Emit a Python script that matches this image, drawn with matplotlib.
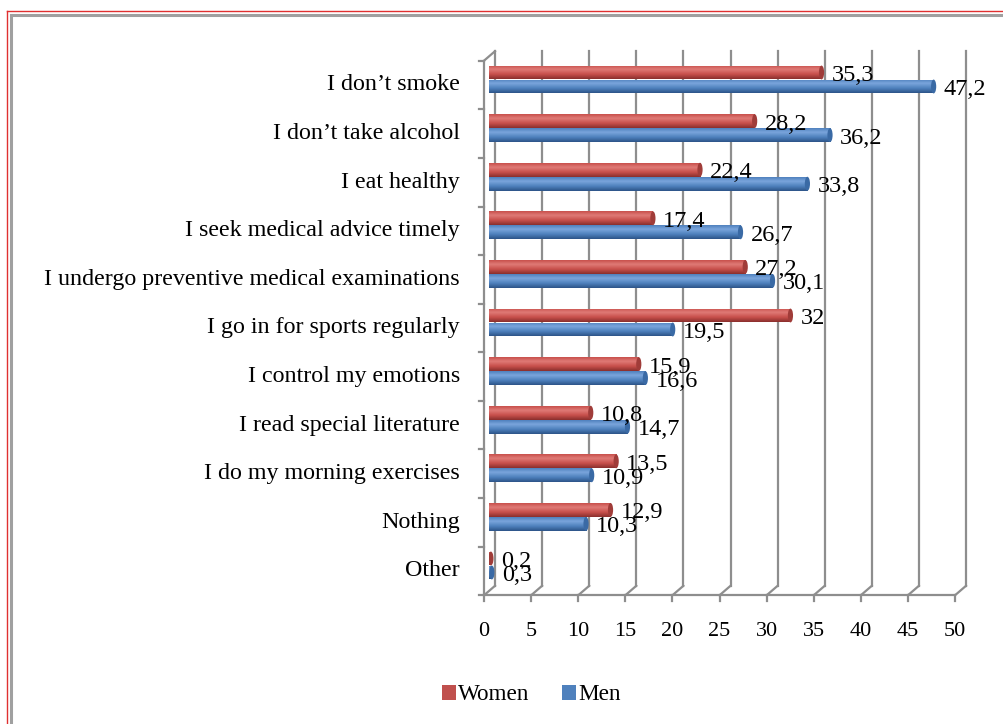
import numpy as np
import matplotlib
matplotlib.use("Agg")
import matplotlib.pyplot as plt
from matplotlib.transforms import ScaledTranslation, IdentityTransform
from matplotlib.lines import Line2D
from matplotlib.patches import Ellipse, Patch
from matplotlib.colors import LinearSegmentedColormap

categories = ["I don\u2019t smoke", "I don\u2019t take alcohol", "I eat healthy",
              "I seek medical advice timely", "I undergo preventive medical examinations",
              "I go in for sports regularly", "I control my emotions",
              "I read special literature", "I do my morning exercises", "Nothing", "Other"]
women = [35.3, 28.2, 22.4, 17.4, 27.2, 32, 15.9, 10.8, 13.5, 12.9, 0.2]
men = [47.2, 36.2, 33.8, 26.7, 30.1, 19.5, 16.6, 14.7, 10.9, 10.3, 0.3]
xticks = [0, 5, 10, 15, 20, 25, 30, 35, 40, 45, 50]
series_names = ["Women", "Men"]

FONT = "Liberation Serif"
plt.rcParams['font.family'] = [FONT, 'DejaVu Serif']

W, H = 1004, 724
fig = plt.figure(figsize=(W / 100, H / 100), dpi=100)
fig.patch.set_facecolor("white")

# bar plane axes
left_px, right_px = 489, 960
top_px, bot_px = 55.2, 589.8
ax = fig.add_axes([left_px / W, 1 - bot_px / H, (right_px - left_px) / W, (bot_px - top_px) / H])
ax.set_xlim(0, 50)
n = len(categories)
ax.set_ylim(n - 0.5, -0.5)
ax.axis("off")

back = ax.transData + ScaledTranslation(0.06, 0.04, fig.dpi_scale_trans)
front = ax.transData + ScaledTranslation(-0.05, -0.055, fig.dpi_scale_trans)
ident = IdentityTransform()
gcol = "#8e8e8e"

ybot = n - 0.5
ytop = -0.5
# back wall gridlines
for v in xticks:
    ax.plot([v, v], [ytop, ybot], transform=back, color=gcol, lw=1.6, clip_on=False, zorder=1)
    p1 = front.transform((v, ybot))
    p2 = back.transform((v, ybot))
    fig.add_artist(Line2D([p1[0], p2[0]], [p1[1], p2[1]], transform=ident, color=gcol, lw=1.6, zorder=1))
    fig.add_artist(Line2D([p1[0], p1[0]], [p1[1], p1[1] - 6], transform=ident, color=gcol, lw=1.6, zorder=1))
    ax.annotate(str(v), xy=(v, ybot), xycoords=front, xytext=(0, -36), textcoords="offset pixels",
                ha="center", va="center", fontsize=16, family=FONT, annotation_clip=False)

# floor front line
ax.plot([0, 50], [ybot, ybot], transform=front, color=gcol, lw=1.6, clip_on=False, zorder=1)
# left wall front line
ax.plot([0, 0], [ytop, ybot], transform=front, color=gcol, lw=1.6, clip_on=False, zorder=1)
p1 = front.transform((0, ytop))
p2 = back.transform((0, ytop))
fig.add_artist(Line2D([p1[0], p2[0]], [p1[1], p2[1]], transform=ident, color=gcol, lw=1.6, zorder=1))
for k in range(n + 1):
    p = front.transform((0, ytop + k))
    fig.add_artist(Line2D([p[0] - 5, p[0]], [p[1], p[1]], transform=ident, color=gcol, lw=1.6, zorder=1))

# category labels
for i, c in enumerate(categories):
    ax.annotate(c, xy=(0, i), xycoords=front, xytext=(-24, 0), textcoords="offset pixels",
                ha="right", va="center", fontsize=17.3, family=FONT, annotation_clip=False)

# bars with cylinder shading
def cmap_for(light, mid, dark):
    return LinearSegmentedColormap.from_list("c", [(0, mid), (0.3, light), (0.65, mid), (1, dark)])

red_cm = cmap_for("#df7a76", "#c8504c", "#8a2f2d")
blue_cm = cmap_for("#7aa5dc", "#4f81bd", "#2c5488")
grad = np.linspace(0, 1, 64).reshape(-1, 1)

h = 0.285
off = 0.144
y = np.arange(n)
for vals, sign, cm, capc in [(women, -1, red_cm, "#a03c39"), (men, 1, blue_cm, "#3a6aa5")]:
    bars = ax.barh(y + sign * off, vals, height=h, color="none", edgecolor="none", zorder=3)
    for b, v in zip(bars, vals):
        x0, y0 = b.get_x(), b.get_y()
        im = ax.imshow(grad, cmap=cm, aspect="auto", origin="upper",
                       extent=(x0, x0 + b.get_width(), y0 + h, y0), zorder=3, interpolation="bilinear")
        im.set_clip_path(b)
        e = Ellipse((v, y0 + h / 2), width=0.55, height=h, facecolor=capc, edgecolor="none", zorder=4)
        ax.add_patch(e)
        lab = ("%g" % v).replace(".", ",")
        ax.annotate(lab, xy=(v, y0 + h / 2), xytext=(10, -3), textcoords="offset pixels",
                    ha="left", va="center", fontsize=17.5, family=FONT, zorder=5, annotation_clip=False)

ax.set_xlim(0, 50)
ax.set_ylim(n - 0.5, -0.5)

# legend
handles = [Patch(facecolor="#c0504d", edgecolor="none"), Patch(facecolor="#4f81bd", edgecolor="none")]
fig.legend(handles, series_names, loc="center", bbox_to_anchor=(531 / W, 1 - 695 / H), ncol=2,
           frameon=False, handlelength=0.6, handleheight=0.6, handletextpad=0.1,
           columnspacing=1.4, prop={"family": FONT, "size": 16.7})

# frame
fig.add_artist(Line2D([7 / W, 1], [1 - 11 / H, 1 - 11 / H], transform=fig.transFigure, color="#e03030", lw=1.0))
fig.add_artist(Line2D([7 / W, 7 / W], [1 - 11 / H, 0], transform=fig.transFigure, color="#e03030", lw=1.0))
fig.add_artist(Line2D([11.5 / W, 1], [1 - 14.5 / H, 1 - 14.5 / H], transform=fig.transFigure, color="#a0a0a0", lw=2.2))
fig.add_artist(Line2D([11.5 / W, 11.5 / W], [1 - 14.5 / H, 0], transform=fig.transFigure, color="#a0a0a0", lw=2.2))

fig.savefig("out.png", dpi=100)
